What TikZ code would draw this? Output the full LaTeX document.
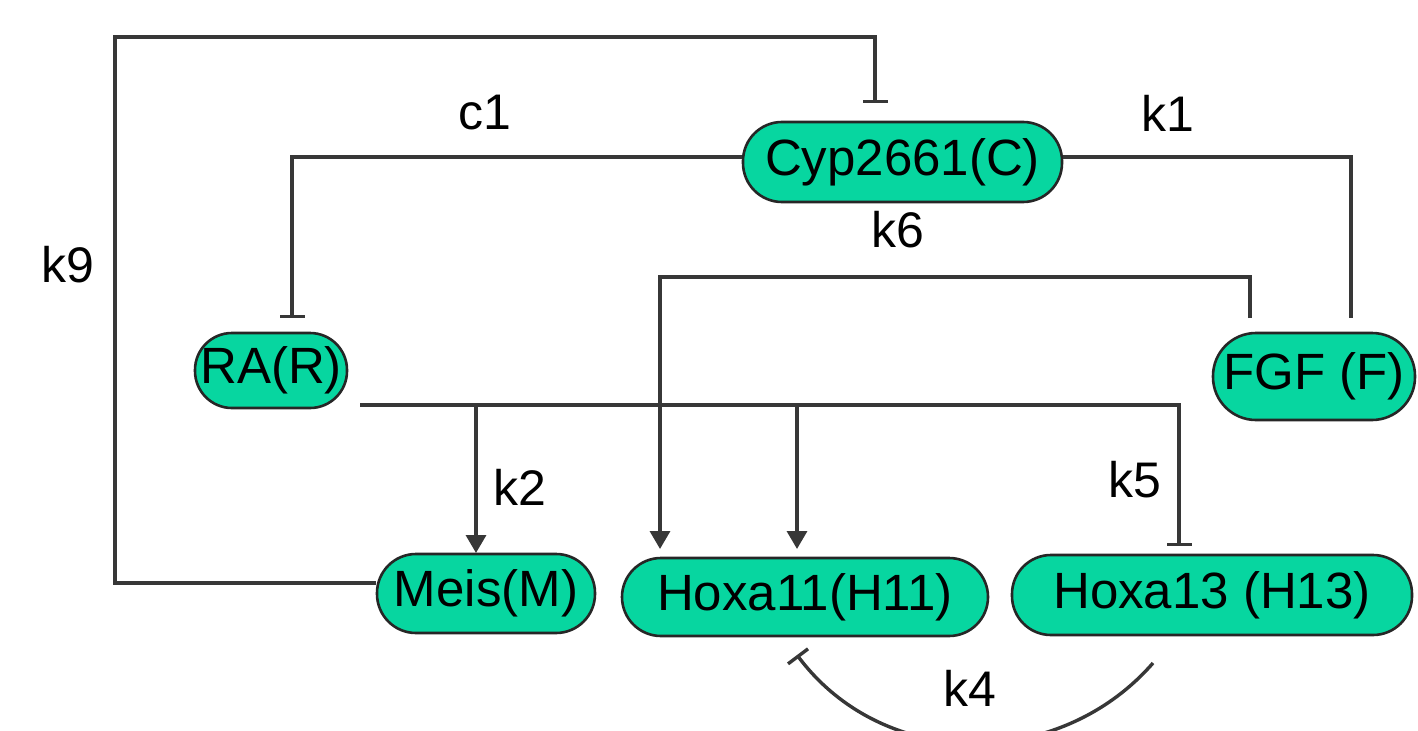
\documentclass[tikz,border=0pt]{standalone}
\usepackage{fontspec}
\setmainfont{Liberation Sans}
\usetikzlibrary{arrows.meta}
\definecolor{genefill}{RGB}{7,214,160}
\definecolor{linegray}{RGB}{55,55,55}
\tikzset{
  gene/.style={draw=black!85, line width=2.6bp, fill=genefill, rounded corners=39bp,
    inner sep=0pt, font=\fontsize{51bp}{57bp}\selectfont, text=black},
  rate/.style={font=\fontsize{50bp}{56bp}\selectfont, text=black, inner sep=0pt},
  link/.style={draw=linegray, line width=3.4bp},
  act/.style={link, -{Triangle[width=20bp,length=18bp]}},
  inh/.style={link, -{Bar[width=25bp,line width=3.4bp]}}
}
\begin{document}
\begin{tikzpicture}[x=1bp,y=-1bp]
\useasboundingbox (0,0) rectangle (1418,730);

% gene nodes
\node[gene, minimum width=319bp, minimum height=80bp] (C) at (902.5,162) {Cyp2661(C)};
\node[gene, minimum width=152bp, minimum height=75bp, rounded corners=37bp] (R) at (271,370.5) {RA(R)};
\node[gene, minimum width=202bp, minimum height=87bp, rounded corners=43bp] (F) at (1314,376.5) {FGF (F)};
\node[gene, minimum width=218bp, minimum height=79bp] (M) at (486,593.5) {Meis(M)};
\node[gene, minimum width=366bp, minimum height=78bp] (H11) at (805,597) {Hoxa11(H11)};
\node[gene, minimum width=400bp, minimum height=80bp] (H13) at (1212,595) {Hoxa13 (H13)};

% helper points
\coordinate (Rout) at (360,405);
\coordinate (Ftop) at (1250,318);
\coordinate (Fk1) at (1351,318);
\coordinate (k4a) at (1153,663);
\coordinate (k4b) at (797,655);

% k9: Meis inhibits Cyp
\draw[inh] (M.west |- 0,583) -- (115,583) -- (115,37) -- (875,37) -- (875,103);
% c1: Cyp inhibits RA
\draw[inh] (C.west |- 0,157) -- (292,157) -- (292,318);
% k1: Cyp to FGF
\draw[link] (C.east |- 0,157) -- (1351,157) -- (Fk1);
% k6: FGF activates Hoxa11
\draw[act] (Ftop) -- (1250,277) -- (660,277) -- (660,549);
% RA bus: k2, k3, k5
\draw[inh] (Rout) -- (1179,405) -- (1179,546);
\draw[act] (476,405) -- (476,553);
\draw[act] (797,405) -- (797,549);
% k4: Hoxa13 inhibits Hoxa11
\draw[link, -{Bar[width=25bp,line width=3.4bp]}] (k4a) .. controls (1060,770) and (885,772) .. (k4b);

% rate labels
\node[rate] (lc1) at (485,113) {c1};
\node[rate] (lk1) at (1168,113) {k1};
\node[rate] (lk6) at (898,230) {k6};
\node[rate] (lk9) at (68,265) {k9};
\node[rate] (lk2) at (520,487) {k2};
\node[rate] (lk5) at (1135,480) {k5};
\node[rate] (lk4) at (970,688) {k4};
\end{tikzpicture}
\end{document}
